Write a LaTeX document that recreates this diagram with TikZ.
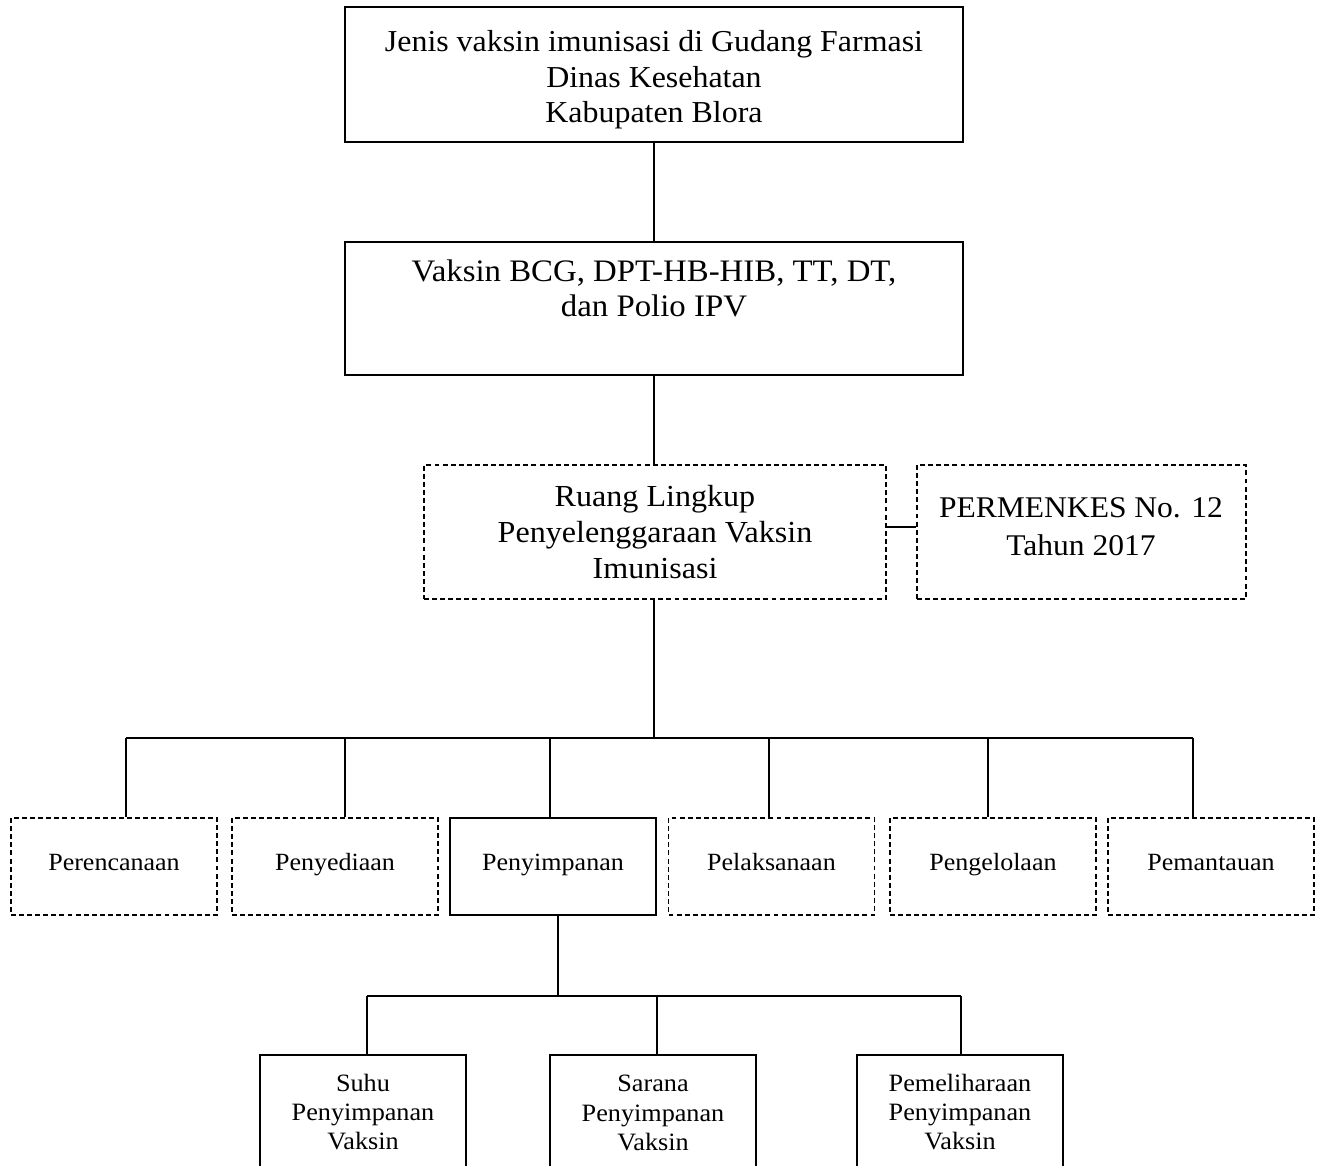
\documentclass[tikz,border=0pt]{standalone}
\usepackage{fontspec}
\setmainfont{Liberation Serif}[FakeStretch=1.05]
\begin{document}
\begin{tikzpicture}[x=0.02cm,y=-0.02cm,
  line width=0.8pt,
  box/.style={draw, rectangle, inner sep=0pt, align=center},
  dbox/.style={box, dash pattern=on 2.8pt off 1.8pt},
  bigtxt/.style={font=\fontsize{17.3}{20.1}\selectfont, align=center, inner sep=0pt},
  midtxt/.style={font=\fontsize{14.1}{16}\selectfont, text height=9.5pt, text depth=5pt},
  smalltxt/.style={font=\fontsize{14.2}{16.7}\selectfont, align=center, inner sep=0pt}]
\useasboundingbox (0,0) rectangle (1322,1166);

% top level
\node[box, minimum width=618*0.02cm, minimum height=135*0.02cm] (top) at (654,74.5) {};
\node[bigtxt] (toptxt) at (654,80) {Jenis vaksin imunisasi di Gudang Farmasi\\Dinas Kesehatan\\Kabupaten Blora};
\node[box, minimum width=618*0.02cm, minimum height=133*0.02cm] (vak) at (654,308.5) {};
\node[bigtxt, font=\fontsize{17.8}{19.8}\selectfont] (vaktxt) at (654,288) {Vaksin BCG, DPT-HB-HIB, TT, DT,\\dan Polio IPV};

% scope and regulation
\node[dbox, minimum width=462*0.02cm, minimum height=134*0.02cm] (ruang) at (655,532) {};
\node[bigtxt, font=\fontsize{17.4}{20.4}\selectfont] (ruangtxt) at (655,532)
  {Ruang Lingkup\\Penyelenggaraan Vaksin\\Imunisasi};
\node[dbox, minimum width=329*0.02cm, minimum height=134*0.02cm] (perm) at (1081.5,532) {};
\node[bigtxt, font=\fontsize{17.1}{21.5}\selectfont] (permtxt) at (1081,527) {PERMENKES No. 12\\Tahun 2017};

% activities
\foreach \n/\cx/\st/\t in {per/114/dbox/Perencanaan, pny/335/dbox/Penyediaan,
    psm/553/box/Penyimpanan, plk/771.5/dbox/Pelaksanaan,
    pgl/993/dbox/Pengelolaan, pmt/1211/dbox/Pemantauan}
  \node[\st, minimum width=206*0.02cm, minimum height=97*0.02cm, midtxt] (\n) at (\cx,866.5) {\t};

% storage sub-items
\foreach \n/\cx in {suhu/363, sarana/653, pml/960}
  \node[box, minimum width=206*0.02cm, minimum height=125*0.02cm] (\n) at (\cx,1117.5) {};
\node[smalltxt] (suhutxt) at (363,1112) {Suhu\\Penyimpanan\\Vaksin};
\node[smalltxt] (saranatxt) at (653,1113) {Sarana\\Penyimpanan\\Vaksin};
\node[smalltxt] (pmltxt) at (960,1112) {Pemeliharaan\\Penyimpanan\\Vaksin};

% connectors
\draw (top.south) -- (vak.north);
\draw (vak.south) -- (vak.south |- ruang.north);
\draw ([yshift=0.1cm]ruang.east) -- ([yshift=0.1cm]perm.west);

\coordinate (bus) at (654,738);
\coordinate (d1) at (126,738);
\coordinate (d2) at (345,738);
\coordinate (d3) at (550,738);
\coordinate (d4) at (769,738);
\coordinate (d5) at (988,738);
\coordinate (d6) at (1193,738);
\draw (ruang.south -| bus) -- (bus);
\draw (d1) -- (d6);
\draw (d1) -- (d1 |- per.north);
\draw (d2) -- (d2 |- pny.north);
\draw (d3) -- (d3 |- psm.north);
\draw (d4) -- (d4 |- plk.north);
\draw (d5) -- (d5 |- pgl.north);
\draw (d6) -- (d6 |- pmt.north);

\coordinate (bus2) at (558,996);
\coordinate (e1) at (367,996);
\coordinate (e2) at (657,996);
\coordinate (e3) at (961,996);
\draw (bus2 |- psm.south) -- (bus2);
\draw (e1) -- (e3);
\draw (e1) -- (e1 |- suhu.north);
\draw (e2) -- (e2 |- sarana.north);
\draw (e3) -- (e3 |- pml.north);
\end{tikzpicture}
\end{document}
